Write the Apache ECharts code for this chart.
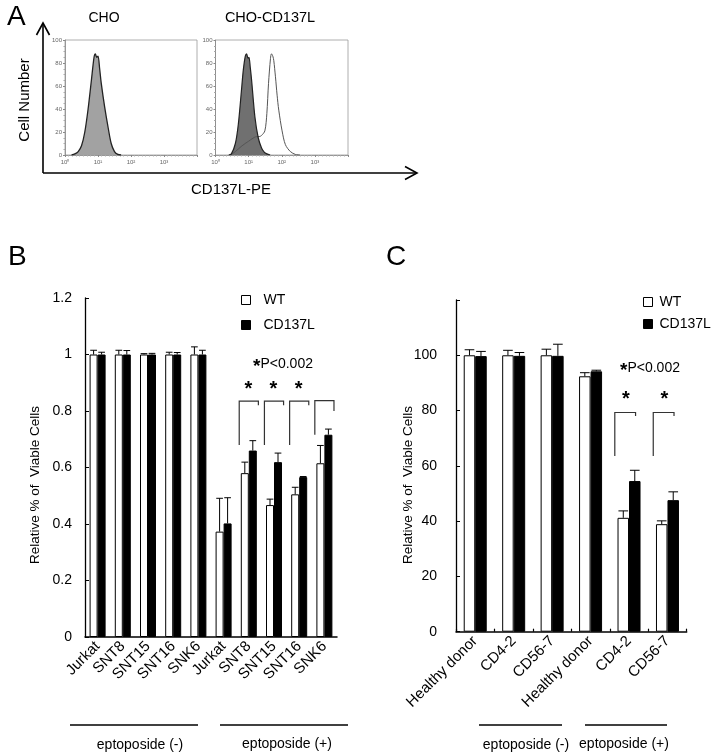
<!DOCTYPE html>
<html><head><meta charset="utf-8">
<script src="https://cdn.jsdelivr.net/npm/echarts@6/dist/echarts.min.js"></script>
<style>html,body{margin:0;padding:0;background:#fff}#c{width:723px;height:755px}</style>
</head><body><div id="c"></div>
<script>
// ---------- Panel A: flow histograms (x = log10 of CD137L-PE fluorescence, y = cell number) ----------
const histTicks = [0, 20, 40, 60, 80, 100];
const choHist = [[0.2,0],[0.3,1],[0.4,3],[0.5,8],[0.6,20],[0.7,40],[0.8,65],[0.88,85],[0.92,88],[0.96,85],[1.0,86],[1.05,75],[1.1,62],[1.2,42],[1.3,25],[1.4,10],[1.5,3],[1.6,0.5],[1.7,0]];
const cd137lCtrlHist = [[0.4,0],[0.48,1],[0.6,10],[0.69,27],[0.78,55],[0.84,74],[0.9,86],[0.94,88],[0.98,84],[1.01,85],[1.05,76],[1.09,65],[1.19,33],[1.29,15],[1.39,6],[1.47,2.5],[1.55,1],[1.65,0]];
const cd137lOpenHist = [[0.45,0],[0.6,3],[0.8,8],[1.0,12],[1.1,14],[1.24,16],[1.32,16],[1.39,17],[1.49,21],[1.55,36],[1.6,62],[1.66,84],[1.69,88],[1.73,86],[1.76,82],[1.81,68],[1.86,52],[1.91,39],[2.01,21],[2.11,9],[2.26,3],[2.41,0.5],[2.55,0]];

// ---------- Panel B ----------
const catsB = ['Jurkat','SNT8','SNT15','SNT16','SNK6','Jurkat','SNT8','SNT15','SNT16','SNK6'];
const wtB   = [1.0, 1.0, 1.0, 1.0, 1.0, 0.373, 0.58, 0.467, 0.505, 0.615];
const wtErrB= [0.015,0.015,0.003,0.008,0.027,0.118,0.039,0.021,0.025,0.063];
const cdB   = [1.0, 1.0, 1.0, 1.0, 1.0, 0.402, 0.66, 0.619, 0.566, 0.716];
const cdErrB= [0.008,0.014,0.004,0.007,0.015,0.091,0.035,0.032,0.002,0.02];
const yTicksB = [0, 0.2, 0.4, 0.6, 0.8, 1.0, 1.2];
// brackets: [category index, top, left leg end, right leg end, star(1/0)]
const bracketsB = [[6,0.835,0.68,0.82,1],[7,0.835,0.68,0.82,1],[8,0.835,0.68,0.82,1],[9,0.837,0.716,0.80,0]];
const starValB = 0.875;

// ---------- Panel C ----------
const catsC = ['Healthy donor','CD4-2','CD56-7','Healthy donor','CD4-2','CD56-7'];
const wtC    = [100, 100, 100, 92.4, 41.2, 38.9];
const wtErrC = [2.0, 1.8, 2.2, 1.3, 2.5, 1.2];
const cdC    = [99.7, 99.8, 99.8, 94.2, 54.5, 47.6];
const cdErrC = [1.7, 1.2, 4.2, 0.4, 3.9, 3.0];
const yTicksC = [0, 20, 40, 60, 80, 100];
const bracketsC = [[4,79.3,63.6,78,1],[5,79.3,63.6,78,1]];
const starValC = 84;

const FONT = '"Liberation Sans", Arial, sans-serif';
const chart = echarts.init(document.getElementById('c'), null, {renderer:'canvas'});

function histXAxis(idx){
  return {type:'value', gridIndex:idx, min:0, max:4, interval:1,
    axisLine:{show:true, lineStyle:{color:'#888', width:0.8}},
    axisTick:{show:true, length:2, lineStyle:{color:'#888'}},
    minorTick:{show:true, splitNumber:9, length:1.5, lineStyle:{color:'#aaa'}},
    splitLine:{show:false},
    axisLabel:{fontSize:6, color:'#666', fontFamily:FONT, margin:4,
      formatter:v => v >= 4 ? '' : '10' + ['\u2070','\u00b9','\u00b2','\u00b3'][v]}};
}
function histYAxis(idx){
  return {type:'value', gridIndex:idx, min:0, max:100, interval:20,
    axisLine:{show:true, lineStyle:{color:'#888', width:0.8}},
    axisTick:{show:true, length:2, lineStyle:{color:'#888'}},
    minorTick:{show:true, splitNumber:4, length:1.5, lineStyle:{color:'#aaa'}},
    splitLine:{show:false},
    axisLabel:{fontSize:6, color:'#666', fontFamily:FONT, margin:3,
      formatter:v => histTicks.includes(v) ? String(v) : ''}};
}

function errSeries(name, xi, vals, errs, side, bw){
  return {type:'custom', name:name, xAxisIndex:xi, yAxisIndex:xi, z:5, silent:true,
    data: vals.map((v,i)=>[i, v, errs[i]]),
    renderItem:(params, api)=>{
      const c = api.coord([api.value(0), api.value(1)]);
      const t = api.coord([api.value(0), api.value(1) + api.value(2)]);
      const x = c[0] + side * bw / 2;
      const half = bw * 0.42;
      return {type:'group', children:[
        {type:'line', shape:{x1:x, y1:c[1], x2:x, y2:t[1]}, style:{stroke:'#000', lineWidth:1}},
        {type:'line', shape:{x1:x-half, y1:t[1], x2:x+half, y2:t[1]}, style:{stroke:'#000', lineWidth:1}}
      ]};
    }};
}
function bracketSeries(xi, data, fl, fr, fs, starVal){
  return {type:'custom', xAxisIndex:xi, yAxisIndex:xi, z:6, silent:true, data:data,
    renderItem:(params, api)=>{
      const cat = api.value(0);
      const w = api.size([1, 0])[0];
      const cx = api.coord([cat, api.value(1)])[0];
      const yt = api.coord([cat, api.value(1)])[1];
      const yl = api.coord([cat, api.value(2)])[1];
      const yr = api.coord([cat, api.value(3)])[1];
      const L = cx + fl*w, R = cx + fr*w;
      const children = [{type:'polyline', shape:{points:[[L,yl],[L,yt],[R,yt],[R,yr]]}, style:{stroke:'#333', lineWidth:1.2, fill:null}}];
      if (api.value(4)) {
        const ys = api.coord([cat, starVal])[1];
        children.push({type:'text', x: cx + fs*w, y: ys, style:{text:'*', fontSize:20, fontWeight:'bold', fontFamily:FONT, fill:'#000', align:'center', verticalAlign:'middle'}});
      }
      return {type:'group', children};
    }};
}

const legendData = [
  {name:'WT', itemStyle:{color:'#fff', borderColor:'#000', borderWidth:1}},
  {name:'CD137L', itemStyle:{color:'#000', borderColor:'#000', borderWidth:1}}
];
const pRich = {s:{fontSize:19, fontWeight:'bold', fontFamily:FONT, fill:'#000', padding:[6,0,0,0]}, t:{fontSize:14, fontFamily:FONT, fill:'#000'}};

const option = {
  animation:false,
  textStyle:{fontFamily:FONT},
  grid:[
    {left:65, top:40, width:132, height:115, show:true, borderColor:'#999', borderWidth:0.8, backgroundColor:'#fff'},
    {left:215.5, top:40, width:132.5, height:115, show:true, borderColor:'#999', borderWidth:0.8, backgroundColor:'#fff'},
    {left:85, top:298, width:252, height:339},
    {left:456, top:300, width:230.7, height:331.7}
  ],
  legend:[
    {left:236, top:288, orient:'vertical', itemWidth:9, itemHeight:9, itemGap:11, selectedMode:false, icon:'rect',
     textStyle:{fontSize:14, color:'#000', fontFamily:FONT, padding:[0,0,0,8]}, data:legendData},
    {left:638, top:290, orient:'vertical', itemWidth:9, itemHeight:9, itemGap:8, selectedMode:false, icon:'rect',
     textStyle:{fontSize:14, color:'#000', fontFamily:FONT, padding:[0,0,0,2]}, data:legendData}
  ],
  xAxis:[
    histXAxis(0), histXAxis(1),
    {type:'category', gridIndex:2, data:catsB,
      axisLine:{lineStyle:{color:'#000', width:1.5}}, axisTick:{show:false},
      axisLabel:{rotate:45, fontSize:15, color:'#000', fontFamily:FONT, margin:7, interval:0}},
    {type:'category', gridIndex:3, data:catsC,
      axisLine:{lineStyle:{color:'#000', width:1.5}},
      axisTick:{show:true, inside:true, length:3, lineStyle:{color:'#000', width:1.2}},
      axisLabel:{rotate:45, fontSize:15, color:'#000', fontFamily:FONT, margin:7, interval:0}}
  ],
  yAxis:[
    histYAxis(0), histYAxis(1),
    {type:'value', gridIndex:2, min:0, max:1.2, interval:0.2,
      axisLine:{show:true, lineStyle:{color:'#000', width:1.3}},
      axisTick:{show:true, inside:true, length:4, lineStyle:{color:'#000'}},
      splitLine:{show:false},
      axisLabel:{fontSize:14, color:'#000', fontFamily:FONT, margin:13, formatter:v => String(+v.toFixed(1))}},
    {type:'value', gridIndex:3, min:0, max:120, interval:20,
      axisLine:{show:true, lineStyle:{color:'#000', width:1.3}},
      axisTick:{show:true, inside:true, length:4, lineStyle:{color:'#000'}},
      splitLine:{show:false},
      axisLabel:{fontSize:14, color:'#000', fontFamily:FONT, margin:19, formatter:v => yTicksC.includes(v) ? String(v) : ''}}
  ],
  series:[
    {type:'line', xAxisIndex:0, yAxisIndex:0, data:choHist, smooth:0.3, symbol:'none',
     lineStyle:{color:'#222', width:1.3}, areaStyle:{color:'#a2a2a2', opacity:1}},
    {type:'line', xAxisIndex:1, yAxisIndex:1, data:cd137lOpenHist, smooth:0.3, symbol:'none',
     lineStyle:{color:'#555', width:1}},
    {type:'line', xAxisIndex:1, yAxisIndex:1, data:cd137lCtrlHist, smooth:0.3, symbol:'none', z:3,
     lineStyle:{color:'#222', width:1.2}, areaStyle:{color:'#707070', opacity:1}},

    {type:'bar', name:'WT', xAxisIndex:2, yAxisIndex:2, data:wtB, barWidth:8, barGap:'0%',
     itemStyle:{color:'#fff', borderColor:'#000', borderWidth:1}},
    {type:'bar', name:'CD137L', xAxisIndex:2, yAxisIndex:2, data:cdB, barWidth:8, barGap:'0%',
     itemStyle:{color:'#000', borderColor:'#000', borderWidth:1}},
    errSeries('WTerrB', 2, wtB, wtErrB, -1, 8),
    errSeries('CDerrB', 2, cdB, cdErrB, 1, 8),
    bracketSeries(2, bracketsB, -0.38, 0.38, -0.02, starValB),

    {type:'bar', name:'WT', xAxisIndex:3, yAxisIndex:3, data:wtC, barWidth:11.5, barGap:'0%',
     itemStyle:{color:'#fff', borderColor:'#000', borderWidth:1}},
    {type:'bar', name:'CD137L', xAxisIndex:3, yAxisIndex:3, data:cdC, barWidth:11.5, barGap:'0%',
     itemStyle:{color:'#000', borderColor:'#000', borderWidth:1}},
    errSeries('WTerrC', 3, wtC, wtErrC, -1, 11.5),
    errSeries('CDerrC', 3, cdC, cdErrC, 1, 11.5),
    bracketSeries(3, bracketsC, -0.37, 0.17, -0.08, starValC)
  ],
  graphic:[
    // panel letters
    {type:'text', x:7, y:3, style:{text:'A', fontSize:28, fontFamily:FONT, fill:'#000'}},
    {type:'text', x:8, y:243, style:{text:'B', fontSize:28, fontFamily:FONT, fill:'#000'}},
    {type:'text', x:386, y:243, style:{text:'C', fontSize:28, fontFamily:FONT, fill:'#000'}},
    // panel A annotations
    {type:'text', x:104, y:18, style:{text:'CHO', fontSize:14, fontFamily:FONT, fill:'#000', align:'center', verticalAlign:'middle'}},
    {type:'text', x:270, y:18, style:{text:'CHO-CD137L', fontSize:14.5, fontFamily:FONT, fill:'#000', align:'center', verticalAlign:'middle'}},
    {type:'text', x:25, y:100, rotation:Math.PI/2, style:{text:'Cell Number', fontSize:15, fontFamily:FONT, fill:'#000', align:'center', verticalAlign:'middle'}},
    {type:'text', x:231, y:190, style:{text:'CD137L-PE', fontSize:15, fontFamily:FONT, fill:'#000', align:'center', verticalAlign:'middle'}},
    {type:'line', shape:{x1:43, y1:173, x2:43, y2:24}, style:{stroke:'#000', lineWidth:1.6}},
    {type:'polyline', shape:{points:[[36.5,35],[43,23],[49.5,35]]}, style:{stroke:'#000', lineWidth:1.6, fill:null}},
    {type:'line', shape:{x1:43, y1:173, x2:417, y2:173}, style:{stroke:'#000', lineWidth:1.6}},
    {type:'polyline', shape:{points:[[405,166.5],[417,173],[405,179.5]]}, style:{stroke:'#000', lineWidth:1.6, fill:null}},
    // axis titles
    {type:'text', x:35, y:485, rotation:Math.PI/2, style:{text:'Relative % of  Viable Cells', fontSize:13.5, fontFamily:FONT, fill:'#000', align:'center', verticalAlign:'middle'}},
    {type:'text', x:408, y:485, rotation:Math.PI/2, style:{text:'Relative % of  Viable Cells', fontSize:13.5, fontFamily:FONT, fill:'#000', align:'center', verticalAlign:'middle'}},
    // significance notes
    {type:'text', x:283, y:364, style:{text:'{s|*}{t|P<0.002}', rich:pRich, align:'center', verticalAlign:'middle'}},
    {type:'text', x:650, y:368, style:{text:'{s|*}{t|P<0.002}', rich:pRich, align:'center', verticalAlign:'middle'}},
    // treatment group lines
    {type:'line', shape:{x1:70, y1:725, x2:198, y2:725}, style:{stroke:'#000', lineWidth:1.3}},
    {type:'line', shape:{x1:220, y1:725, x2:348, y2:725}, style:{stroke:'#000', lineWidth:1.3}},
    {type:'line', shape:{x1:479, y1:725, x2:562, y2:725}, style:{stroke:'#000', lineWidth:1.3}},
    {type:'line', shape:{x1:585, y1:725, x2:667, y2:725}, style:{stroke:'#000', lineWidth:1.3}},
    {type:'text', x:140, y:745, style:{text:'eptoposide (-)', fontSize:14, fontFamily:FONT, fill:'#000', align:'center', verticalAlign:'middle'}},
    {type:'text', x:287, y:744, style:{text:'eptoposide (+)', fontSize:14, fontFamily:FONT, fill:'#000', align:'center', verticalAlign:'middle'}},
    {type:'text', x:526, y:745, style:{text:'eptoposide (-)', fontSize:14, fontFamily:FONT, fill:'#000', align:'center', verticalAlign:'middle'}},
    {type:'text', x:624, y:744, style:{text:'eptoposide (+)', fontSize:14, fontFamily:FONT, fill:'#000', align:'center', verticalAlign:'middle'}}
  ]
};
chart.setOption(option);
</script></body></html>
